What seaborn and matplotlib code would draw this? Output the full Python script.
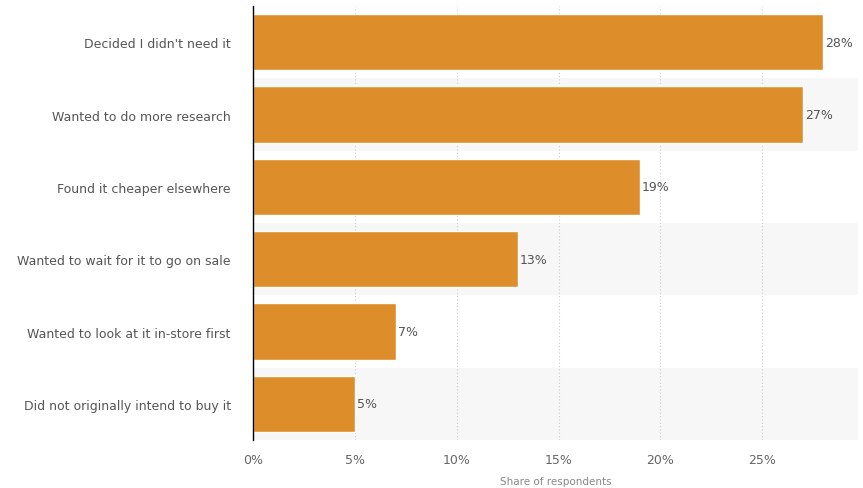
import matplotlib
matplotlib.use("Agg")
import matplotlib.pyplot as plt
import seaborn as sns
import pandas as pd

categories = [
    "Decided I didn't need it",
    "Wanted to do more research",
    "Found it cheaper elsewhere",
    "Wanted to wait for it to go on sale",
    "Wanted to look at it in-store first",
    "Did not originally intend to buy it",
]
values = [28, 27, 19, 13, 7, 5]
xticks = [0, 5, 10, 15, 20, 25]
xtick_labels = ["0%", "5%", "10%", "15%", "20%", "25%"]

sns.set_theme(style="white")
plt.rcParams['font.family'] = ['DejaVu Sans']

df = pd.DataFrame({"reason": categories, "share": values})

fig = plt.figure(figsize=(8.63, 4.89), dpi=100)
ax = fig.add_axes([0.2932, 0.0978, 0.701, 0.888])

for i in range(len(categories)):
    if i % 2 == 1:
        ax.axhspan(i - 0.5, i + 0.5, color="#f7f7f7", zorder=0, lw=0)

sns.barplot(data=df, y="reason", x="share", orient="h", color="#dd8e2b",
            saturation=1, width=0.78, ax=ax, zorder=3)

for i, v in enumerate(values):
    ax.text(v + 0.1, i, f"{v}%", va="center", ha="left", fontsize=9, color="#555555", zorder=4)

ax.set_xlim(0, 29.7)
ax.set_ylim(len(categories) - 0.5, -0.5)
ax.set_xticks(xticks)
ax.set_xticklabels(xtick_labels)
ax.tick_params(axis="x", length=0, pad=9, labelsize=9, labelcolor="#666666")
ax.tick_params(axis="y", length=0, pad=16, labelsize=9, labelcolor="#555555")
ax.xaxis.grid(True, linestyle=(0, (1, 2)), color="#cccccc", linewidth=0.8, zorder=1)
ax.set_axisbelow(True)
ax.set_ylabel("")
ax.set_xlabel("Share of respondents", fontsize=7.5, color="#888888", labelpad=7.5)
for s in ["top", "right", "bottom"]:
    ax.spines[s].set_visible(False)
ax.spines["left"].set_color("#000000")
ax.spines["left"].set_linewidth(1)
ax.spines["left"].set_zorder(5)

fig.savefig("out.png", dpi=100)
